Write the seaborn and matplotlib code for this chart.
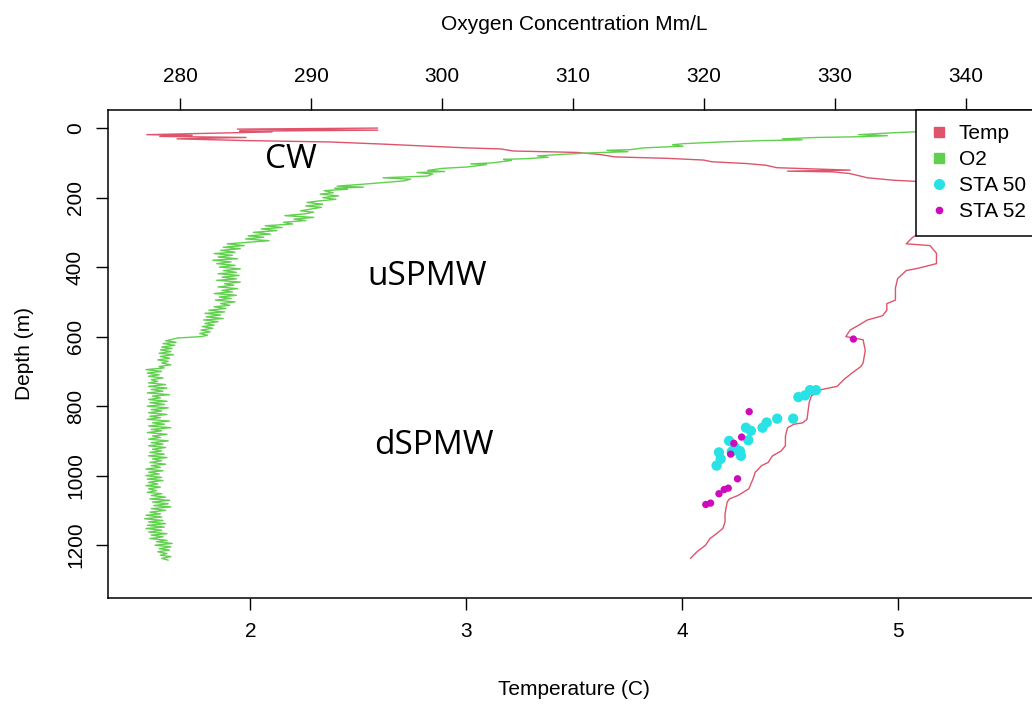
import matplotlib
matplotlib.use('Agg')
import matplotlib.pyplot as plt
from matplotlib.lines import Line2D
import seaborn as sns

sns.set_style('white')
plt.rcParams['font.family'] = ['Liberation Sans', 'DejaVu Sans']
plt.rcParams['text.color'] = 'black'
plt.rcParams['axes.labelcolor'] = 'black'

# temperature profile (depth m, temp C)
temp_depth = [0, 3, 6, 9, 11, 19, 21, 24, 27, 31, 36, 40, 46, 50, 57, 60, 66, 70, 76, 83,
              87, 92, 97, 102, 107, 114, 121, 124, 126, 131, 143, 150, 157, 175, 220, 281,
              300, 314, 333, 338, 360, 390, 404, 410, 433, 460, 495, 505, 524, 540, 547,
              552, 567, 581, 600, 609, 640, 676, 686, 704, 724, 743, 752, 762, 771, 790,
              838, 848, 852, 862, 886, 914, 929, 943, 962, 971, 990, 1009, 1038, 1057,
              1067, 1076, 1110, 1133, 1152, 1167, 1181, 1200, 1219, 1238]
temp_c = [2.59, 1.94, 2.59, 1.95, 2.10, 1.52, 1.73, 1.58, 1.98, 1.66, 1.98, 2.37, 2.61,
          2.75, 3.00, 3.16, 3.22, 3.51, 3.62, 3.69, 3.93, 4.10, 4.14, 4.30, 4.39, 4.44,
          4.78, 4.49, 4.70, 4.78, 4.86, 4.98, 5.20, 5.22, 5.15, 5.09, 5.11, 5.07, 5.04,
          5.15, 5.18, 5.18, 5.09, 5.04, 5.00, 4.99, 4.99, 4.95, 4.95, 4.93, 4.89, 4.86,
          4.82, 4.78, 4.76, 4.84, 4.85, 4.84, 4.83, 4.79, 4.75, 4.72, 4.65, 4.62, 4.60,
          4.59, 4.58, 4.56, 4.52, 4.49, 4.48, 4.48, 4.46, 4.42, 4.40, 4.37, 4.34, 4.33,
          4.31, 4.26, 4.22, 4.21, 4.20, 4.20, 4.19, 4.16, 4.13, 4.11, 4.07, 4.04]

# oxygen profile (depth m, Mm/L)
o2_depth = [0, 5, 10, 14, 19, 22, 25, 27, 31, 34, 36, 40, 45, 48, 52, 57, 62, 64, 68, 71,
            76, 80, 84, 88, 90, 93, 100, 103, 105, 112, 116, 122, 125, 128, 132, 138, 143,
            147, 152, 157, 162, 167, 170, 173, 176, 180, 186, 190, 195, 200, 205, 210, 214,
            219, 224, 228, 233, 238, 242, 247, 252, 257, 262, 266, 271, 276, 281, 286, 290,
            295, 300, 305, 310, 314, 319, 324, 328, 333, 338, 343, 347, 352, 357, 361, 366,
            371, 376, 380, 385, 390, 395, 400, 405, 410, 415, 419, 424, 429, 434, 438, 443,
            448, 452, 457, 462, 467, 471, 476, 481, 486, 490, 495, 500, 505, 510, 514, 519,
            524, 529, 533, 538, 543, 548, 552, 557, 562, 567, 571, 576, 581, 586, 591, 596,
            600, 604, 608, 612, 616, 620, 625, 630, 634, 638, 643, 648, 652, 657, 662, 667,
            671, 676, 681, 686, 690, 695, 700, 705, 710, 714, 719, 724, 729, 733, 738, 743,
            748, 752, 757, 762, 767, 771, 776, 781, 786, 790, 795, 800, 805, 810, 814, 819,
            824, 829, 833, 838, 843, 848, 852, 857, 862, 867, 871, 876, 881, 886, 890, 895,
            900, 905, 909, 914, 919, 924, 929, 933, 938, 943, 948, 952, 957, 962, 967, 971,
            976, 981, 986, 990, 995, 1000, 1005, 1010, 1014, 1019, 1024, 1029, 1033, 1038,
            1043, 1048, 1052, 1057, 1062, 1067, 1071, 1076, 1081, 1086, 1090, 1095, 1100,
            1105, 1110, 1114, 1119, 1124, 1129, 1133, 1138, 1143, 1148, 1152, 1157, 1162,
            1167, 1171, 1176, 1181, 1186, 1190, 1195, 1200, 1205, 1210, 1214, 1219, 1224,
            1229, 1233, 1238, 1243]
o2_conc = [343.0, 339.5, 336.5, 334.2, 331.8, 334.0, 331.8, 328.6, 326.0, 327.5, 324.5,
           321.2, 318.4, 317.6, 318.4, 315.4, 314.4, 312.6, 314.2, 311.5, 309.0, 307.3,
           308.1, 306.5, 304.7, 305.3, 303.9, 302.2, 303.4, 301.9, 300.0, 298.9, 300.2,
           298.1, 299.3, 298.9, 295.5, 297.6, 297.1, 295.5, 293.8, 292.0, 294.0, 291.8,
           292.8, 291.0, 291.7, 290.7, 292.1, 290.9, 291.9, 290.5, 289.7, 290.9, 289.6,
           290.8, 290.0, 289.2, 290.2, 289.5, 288.0, 290.2, 288.7, 289.6, 287.9, 288.6,
           286.5, 287.8, 286.2, 287.4, 285.6, 286.9, 285.2, 286.4, 285.0, 286.8, 285.4,
           283.6, 284.9, 283.3, 284.6, 283.1, 284.2, 282.6, 284.0, 282.9, 284.4, 282.5,
           283.9, 282.8, 284.2, 283.0, 284.6, 283.3, 284.3, 282.9, 284.5, 283.2, 284.3,
           282.8, 284.6, 283.4, 284.1, 282.9, 284.4, 283.2, 284.0, 282.6, 284.3, 283.0,
           283.9, 282.7, 284.2, 283.1, 283.8, 282.6, 283.5, 282.2, 283.4, 281.9, 283.1,
           282.0, 283.3, 281.8, 282.9, 281.9, 282.6, 281.7, 282.5, 281.6, 282.3, 281.5,
           282.1, 281.6, 279.8, 279.4, 278.9, 279.7, 278.7, 279.6, 278.6, 279.4, 278.5,
           279.3, 278.4, 279.5, 278.5, 279.2, 278.3, 279.1, 278.6, 279.3, 278.4, 278.8,
           277.4, 278.6, 277.5, 278.4, 277.6, 278.7, 277.8, 278.3, 277.6, 278.9, 277.6,
           279.0, 277.8, 278.7, 277.5, 279.2, 277.9, 278.5, 277.6, 279.0, 277.7, 278.8,
           277.5, 279.1, 277.8, 278.6, 277.6, 279.0, 277.7, 278.5, 277.5, 279.2, 277.9,
           278.8, 277.6, 279.3, 277.8, 278.6, 277.5, 279.0, 277.9, 278.5, 277.6, 279.1,
           277.8, 278.7, 277.6, 278.9, 277.9, 278.6, 277.7, 278.8, 277.6, 279.0, 277.9,
           278.6, 277.7, 278.9, 277.8, 278.5, 277.4, 278.7, 277.6, 278.4, 277.4, 278.6,
           277.5, 278.7, 277.6, 278.3, 277.4, 278.5, 277.6, 278.2, 277.5, 278.6, 277.8,
           278.9, 277.7, 279.2, 277.9, 279.1, 278.0, 279.3, 277.8, 278.9, 277.7, 278.5,
           277.4, 278.6, 277.3, 278.7, 277.6, 278.9, 277.5, 278.8, 277.4, 278.6, 277.6,
           279.0, 277.8, 278.7, 277.7, 279.0, 278.2, 279.4, 278.1, 279.3, 278.4, 279.2,
           278.3, 279.0, 278.5, 279.3, 278.6, 279.1]

# bottle samples
sta50_temp = [4.540, 4.571, 4.594, 4.622, 4.516, 4.442, 4.393, 4.374, 4.297, 4.320,
              4.308, 4.219, 4.246, 4.269, 4.274, 4.172, 4.180, 4.161, 4.231]
sta50_depth = [774, 769, 754, 754, 836, 836, 847, 862, 862, 871, 898, 900, 919, 929,
               943, 933, 952, 971, 931]
sta52_temp = [4.795, 4.312, 4.277, 4.241, 4.226, 4.258, 4.215, 4.196, 4.172, 4.133, 4.111]
sta52_depth = [607, 816, 889, 907, 938, 1009, 1036, 1040, 1052, 1079, 1083]

water_masses = ['CW', 'uSPMW', 'dSPMW']
mass_temp = [2.19, 2.82, 2.85]
mass_depth = [90, 426, 914]

red = '#DF536B'
green = '#61D04F'
cyan = '#28E2E5'
magenta = '#CD0BBC'

fig = plt.figure(figsize=(10.32, 7.04), dpi=100)
ax = fig.add_axes([108 / 1032, 1 - 598 / 704, 932 / 1032, 488 / 704])

sns.lineplot(x=temp_c, y=temp_depth, sort=False, estimator=None, color=red, lw=1, ax=ax)
sns.scatterplot(x=sta50_temp, y=sta50_depth, color=cyan, s=55, edgecolor='none', ax=ax, zorder=3)
sns.scatterplot(x=sta52_temp, y=sta52_depth, color=magenta, s=28, edgecolor='none', ax=ax, zorder=4)
for name, t, d in zip(water_masses, mass_temp, mass_depth):
    ax.text(t, d, name, fontsize=24, color='black', family=['Open Sans', 'DejaVu Sans'],
            ha='center', va='center')

ax.set_xlim(1.34, 5.66)
ax.set_ylim(1352, -52)
ax.set_xticks([2, 3, 4, 5])
ax.set_yticks([0, 200, 400, 600, 800, 1000, 1200])
ax.tick_params(axis='x', bottom=True, top=False, direction='out', length=8.6, width=1,
               labelsize=15, pad=9, colors='black')
ax.tick_params(axis='y', left=True, right=False, direction='out', length=8.6, width=1,
               labelsize=15, pad=8, colors='black')
plt.setp(ax.get_yticklabels(), rotation=90, va='center')
for sp in ax.spines.values():
    sp.set_visible(True)
    sp.set_color('black')
    sp.set_linewidth(1.1)
ax.set_xlabel('Temperature (C)', fontsize=15)
ax.xaxis.set_label_coords(0.5, -0.168)
ax.set_ylabel('Depth (m)', fontsize=15)
ax.yaxis.set_label_coords(-0.079, 0.5)

ax2 = ax.twiny()
sns.lineplot(x=o2_conc, y=o2_depth, sort=False, estimator=None, color=green, lw=1, ax=ax2)
ax2.set_xlim(274.5, 345.66)
ax2.set_ylim(1352, -52)
ax2.set_xticks([280, 290, 300, 310, 320, 330, 340])
ax2.tick_params(axis='x', top=True, bottom=False, labeltop=True, labelbottom=False,
                direction='out', length=8.6, width=1, labelsize=15, pad=9, colors='black')
ax2.tick_params(axis='y', left=False, right=False, labelleft=False, labelright=False)
for sp in ax2.spines.values():
    sp.set_visible(False)
ax2.set_ylabel('')
ax2.set_xlabel('Oxygen Concentration Mm/L', fontsize=15)
ax2.xaxis.set_label_position('top')
ax2.xaxis.set_label_coords(0.5, 1.164)

handles = [
    Line2D([], [], ls='none', marker='s', color=red, markersize=6.5, label='Temp'),
    Line2D([], [], ls='none', marker='s', color=green, markersize=6.5, label='O2'),
    Line2D([], [], ls='none', marker='o', color=cyan, markersize=7, label='STA 50'),
    Line2D([], [], ls='none', marker='o', color=magenta, markersize=4.5, label='STA 52'),
]
leg = ax2.legend(handles=handles, loc='upper right', bbox_to_anchor=(1, 1), borderaxespad=0,
                 frameon=True, fancybox=False, edgecolor='black', framealpha=1, fontsize=15,
                 handlelength=0.8, handletextpad=0.55, labelspacing=0.34, borderpad=0.68)
leg.get_frame().set_linewidth(1.1)

fig.savefig('out.png', dpi=100)
